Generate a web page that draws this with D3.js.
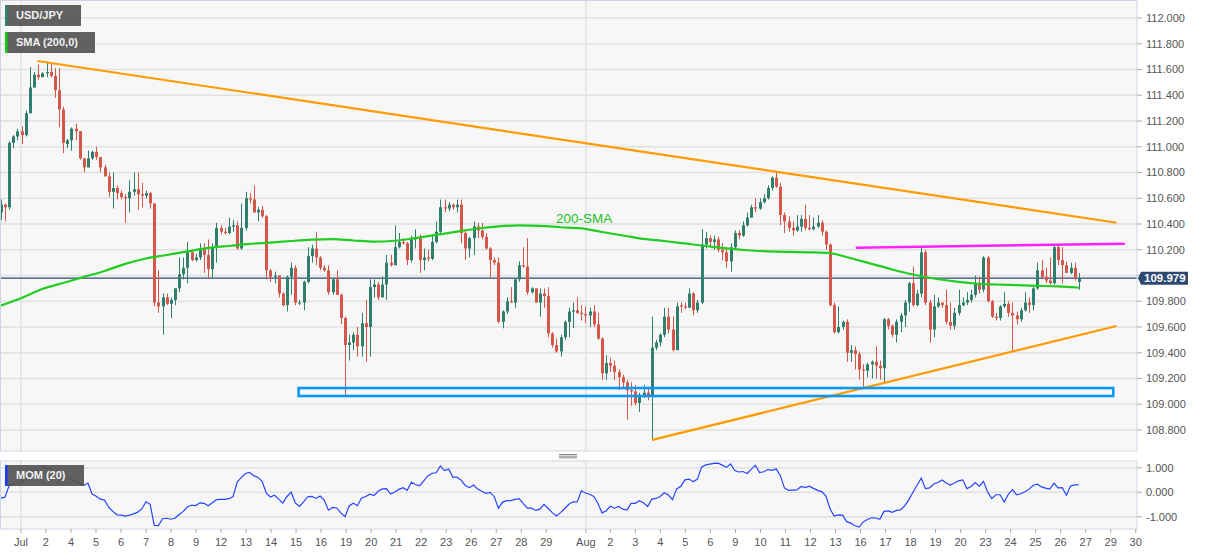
<!DOCTYPE html>
<html><head><meta charset="utf-8">
<script src="https://cdn.jsdelivr.net/npm/d3@7"></script>
<style>
body{margin:0;background:#fff;}
svg{display:block;font-family:"Liberation Sans",Arial,sans-serif;}
</style></head><body>
<svg id="c" width="1207" height="555"></svg>
<script>
// ---- DATA (4H USD/JPY candles) ----
const opens=[110.49,110.55,110.53,111.03,111.08,111.12,111.09,111.26,111.46,111.56,111.54,111.57,111.58,111.55,111.44,111.29,111.02,111.05,111.14,111.12,
110.91,110.84,110.91,110.96,110.92,110.84,110.77,110.65,110.68,110.64,110.61,110.60,110.65,110.67,110.63,110.62,110.64,110.56,109.79,109.76,
109.83,109.78,109.81,109.90,110.01,110.06,110.18,110.12,110.14,110.21,110.16,110.05,110.22,110.37,110.34,110.33,110.38,110.39,110.21,110.37,
110.60,110.59,110.49,110.51,110.46,110.04,109.99,110.00,109.86,109.77,109.99,110.06,109.79,109.79,109.95,110.15,110.21,110.14,110.06,110.04,
109.87,109.97,109.85,109.67,109.46,109.48,109.54,109.45,109.63,109.60,109.91,109.93,109.83,109.93,110.10,110.08,110.22,110.26,110.25,110.12,
110.28,110.29,110.12,110.14,110.13,110.26,110.34,110.53,110.52,110.55,110.53,110.55,110.33,110.21,110.29,110.38,110.35,110.30,110.21,110.12,
110.10,109.64,109.72,109.80,109.79,109.97,110.08,110.07,109.87,109.90,109.79,109.86,109.84,109.55,109.46,109.41,109.52,109.64,109.72,109.73,
109.71,109.70,109.69,109.72,109.62,109.51,109.24,109.32,109.30,109.25,109.21,109.17,109.11,109.10,109.01,109.07,109.09,109.06,109.44,109.48,
109.54,109.68,109.58,109.42,109.77,109.76,109.75,109.86,109.73,109.79,110.24,110.29,110.26,110.28,110.20,110.18,110.11,110.22,110.33,110.31,
110.39,110.45,110.53,110.52,110.57,110.60,110.68,110.76,110.69,110.47,110.42,110.37,110.35,110.38,110.44,110.37,110.36,110.38,110.41,110.34,
110.24,109.77,109.56,109.60,109.64,109.40,109.42,109.39,109.27,109.26,109.31,109.33,109.30,109.28,109.66,109.61,109.54,109.64,109.69,109.79,
109.94,109.77,109.86,110.18,109.79,109.58,109.76,109.79,109.77,109.64,109.61,109.71,109.77,109.79,109.81,109.85,109.94,109.89,110.14,109.80,
109.68,109.67,109.76,109.78,109.71,109.69,109.66,109.73,109.79,109.77,109.90,110.04,109.99,109.96,109.94,110.22,110.12,110.08,110.02,110.06,
109.95];
const highs=[110.59,110.56,111.04,111.09,111.14,111.16,111.28,111.62,111.58,111.64,111.58,111.66,111.65,111.61,111.61,111.31,111.06,111.15,111.18,111.12,
110.91,110.97,110.97,111.00,110.92,110.86,110.80,110.80,110.70,110.66,110.63,110.74,110.80,110.80,110.72,110.66,110.65,110.56,110.04,109.86,
109.86,109.83,109.90,110.14,110.14,110.26,110.20,110.17,110.25,110.25,110.28,110.25,110.41,110.39,110.37,110.45,110.43,110.42,110.56,110.65,
110.64,110.70,110.53,110.54,110.47,110.05,110.03,110.00,109.87,110.00,110.10,110.08,109.81,109.96,110.22,110.24,110.34,110.15,110.08,110.08,
109.98,110.04,109.86,109.68,109.54,109.56,109.60,109.71,109.81,109.97,109.97,109.95,109.99,110.16,110.16,110.39,110.33,110.29,110.26,110.31,
110.36,110.32,110.21,110.20,110.32,110.42,110.59,110.59,110.57,110.56,110.59,110.59,110.35,110.30,110.42,110.41,110.41,110.33,110.22,110.14,
110.14,109.73,109.83,109.91,109.98,110.11,110.22,110.29,109.91,109.90,109.90,109.90,109.91,109.56,109.51,109.54,109.65,109.75,109.79,109.83,
109.77,109.76,109.75,109.77,109.71,109.52,109.38,109.36,109.34,109.27,109.23,109.19,109.17,109.15,109.09,109.15,109.13,109.68,109.50,109.55,
109.75,109.75,109.68,109.79,109.79,109.79,109.90,109.87,109.81,110.36,110.34,110.31,110.31,110.30,110.25,110.22,110.25,110.35,110.35,110.42,
110.49,110.55,110.60,110.60,110.63,110.70,110.77,110.80,110.72,110.49,110.46,110.42,110.47,110.47,110.55,110.47,110.45,110.47,110.43,110.35,
110.25,109.79,109.76,109.65,109.66,109.46,109.45,109.41,109.31,109.32,109.34,109.45,109.34,109.67,109.67,109.62,109.66,109.71,109.81,109.95,
110.07,109.89,110.22,110.20,109.81,109.85,109.83,109.79,109.89,109.79,109.75,109.89,109.83,109.87,109.89,110.00,109.99,110.15,110.15,109.81,
109.71,109.77,109.87,109.80,109.79,109.72,109.75,109.87,109.83,109.91,110.10,110.12,110.06,110.14,110.24,110.24,110.22,110.11,110.10,110.10,
110.02];
const lows=[110.43,110.42,110.51,110.99,111.05,111.02,111.08,111.26,111.46,111.52,111.54,111.54,111.54,111.38,111.15,110.95,110.99,110.97,111.05,110.90,
110.80,110.84,110.90,110.90,110.80,110.77,110.61,110.52,110.59,110.59,110.41,110.49,110.62,110.51,110.53,110.60,110.52,109.76,109.71,109.54,
109.77,109.67,109.77,109.87,109.97,109.94,110.11,110.11,110.12,110.02,109.98,109.98,110.10,110.32,110.32,110.32,110.34,110.20,110.20,110.35,
110.56,110.49,110.42,110.45,109.97,109.95,109.94,109.83,109.76,109.72,109.85,109.77,109.77,109.73,109.94,110.10,110.08,110.04,110.03,109.85,
109.85,109.85,109.62,109.06,109.34,109.42,109.37,109.37,109.33,109.37,109.83,109.81,109.83,109.81,110.07,110.08,110.21,110.24,110.08,110.10,
110.21,110.02,110.04,110.11,110.12,110.25,110.33,110.49,110.50,110.51,110.49,110.25,110.12,110.14,110.16,110.29,110.28,110.20,109.98,110.08,
109.63,109.59,109.70,109.79,109.75,109.95,110.06,109.85,109.86,109.79,109.68,109.75,109.52,109.44,109.40,109.37,109.50,109.52,109.59,109.70,
109.65,109.63,109.60,109.60,109.50,109.19,109.19,109.25,109.19,109.11,109.13,108.88,108.99,108.99,108.94,109.05,109.03,108.72,109.42,109.45,
109.52,109.55,109.41,109.42,109.71,109.74,109.75,109.69,109.71,109.78,110.21,110.22,110.20,110.18,110.12,110.06,110.03,110.20,110.28,110.30,
110.38,110.45,110.49,110.51,110.56,110.59,110.66,110.68,110.39,110.33,110.34,110.31,110.34,110.34,110.35,110.35,110.35,110.37,110.31,110.20,
109.76,109.55,109.55,109.58,109.33,109.33,109.27,109.19,109.13,109.21,109.20,109.20,109.19,109.17,109.58,109.52,109.48,109.56,109.60,109.72,
109.76,109.76,109.83,109.77,109.48,109.52,109.75,109.75,109.62,109.58,109.58,109.69,109.76,109.77,109.79,109.83,109.86,109.87,109.79,109.67,
109.65,109.65,109.75,109.68,109.42,109.62,109.64,109.72,109.71,109.73,109.89,109.98,109.94,109.93,109.93,110.08,109.94,110.02,110.01,109.96,
109.89];
const closes=[110.55,110.53,111.03,111.08,111.12,111.09,111.26,111.46,111.56,111.54,111.57,111.58,111.55,111.44,111.29,111.03,111.05,111.14,111.12,110.91,
110.84,110.91,110.96,110.92,110.84,110.77,110.65,110.68,110.64,110.61,110.60,110.65,110.67,110.63,110.62,110.64,110.56,109.79,109.76,109.83,
109.78,109.81,109.90,110.01,110.06,110.18,110.12,110.14,110.21,110.16,110.05,110.22,110.37,110.34,110.33,110.38,110.39,110.21,110.37,110.60,
110.59,110.49,110.51,110.46,110.04,109.99,110.00,109.86,109.77,109.99,110.06,109.79,109.79,109.95,110.15,110.21,110.14,110.06,110.04,109.87,
109.97,109.85,109.67,109.46,109.48,109.54,109.45,109.63,109.60,109.91,109.93,109.83,109.93,110.10,110.08,110.22,110.26,110.25,110.12,110.28,
110.29,110.12,110.14,110.13,110.26,110.34,110.53,110.52,110.55,110.53,110.55,110.33,110.21,110.29,110.38,110.35,110.30,110.21,110.12,110.10,
109.64,109.72,109.80,109.79,109.97,110.08,110.07,109.87,109.90,109.79,109.86,109.84,109.55,109.46,109.41,109.52,109.64,109.72,109.73,109.71,
109.70,109.69,109.72,109.62,109.51,109.24,109.32,109.30,109.25,109.21,109.17,109.11,109.10,109.01,109.07,109.09,109.06,109.44,109.48,109.54,
109.68,109.58,109.42,109.76,109.76,109.75,109.86,109.73,109.79,110.24,110.29,110.26,110.28,110.20,110.18,110.11,110.22,110.33,110.31,110.39,
110.45,110.53,110.52,110.57,110.60,110.68,110.76,110.69,110.47,110.42,110.37,110.35,110.38,110.44,110.37,110.36,110.38,110.41,110.34,110.24,
109.77,109.56,109.60,109.64,109.40,109.42,109.39,109.27,109.26,109.31,109.33,109.30,109.28,109.66,109.61,109.54,109.64,109.69,109.79,109.94,
109.77,109.86,110.18,109.79,109.58,109.76,109.79,109.77,109.64,109.61,109.71,109.77,109.79,109.81,109.85,109.94,109.89,110.14,109.80,109.68,
109.67,109.76,109.78,109.71,109.69,109.66,109.73,109.79,109.77,109.90,110.04,109.99,109.96,109.94,110.22,110.12,110.08,110.02,110.06,109.98,
109.979];
// closes of the 20 candles before the first visible one (needed by MOM(20))
const priorCloses=[110.79,110.73,110.74,110.74,110.76,110.68,110.70,110.63,110.66,110.60,110.51,110.59,110.58,110.67,110.73,110.47,110.46,110.60,110.66,110.55];
// 200-period SMA, sampled every 5th candle
const smaStep=5;
const smaValues=[109.767,109.826,109.895,109.942,109.989,110.035,110.090,110.132,110.159,110.187,
110.214,110.229,110.245,110.256,110.268,110.278,110.282,110.272,110.263,110.270,
110.291,110.315,110.341,110.365,110.381,110.389,110.386,110.375,110.366,110.338,
110.311,110.284,110.268,110.249,110.229,110.210,110.196,110.188,110.183,110.180,
110.173,110.134,110.090,110.047,110.008,109.977,109.955,109.938,109.930,109.925,
109.920,109.915,109.905];
const tickLabels=["Jul","2","4","5","6","7","8","9","12","13","14","15","16","19","20","21","22","23","26","27","28","29",
"Aug","2","3","4","5","6","9","10","11","12","13","16","17","18","19","20","23","24","25","26","27","29","30"];
const tickIndex=[4.83,10.86,16.90,22.93,28.97,35.00,41.03,47.07,53.10,59.14,65.17,71.20,77.24,83.27,89.31,95.34,101.37,107.41,113.44,119.48,125.51,131.54,
141.1,147.00,153.03,159.07,165.10,171.14,177.17,183.20,189.24,195.27,201.31,207.34,213.37,219.41,225.44,231.48,237.51,243.54,249.58,255.61,261.65,267.68,273.71];
const monthIndex=[4.83,141.1];
const priceTicks=[112.0,111.8,111.6,111.4,111.2,111.0,110.8,110.6,110.4,110.2,110.0,109.8,109.6,109.4,109.2,109.0,108.8];
const momTicks=[1,0,-1];
const resistanceLine=[[8.8,111.666],[269.1,110.41]];
const supportLine=[[157.1,108.723],[269.1,109.608]];
const ceilingLine=[[206.2,110.216],[271.1,110.247]];
const zoneIdx=[71.8,268.3], zonePrice=[109.126,109.064];
const lastPrice=109.979;

// ---- LAYOUT ----
const svg=d3.select("#c");
const R=1137, mT=1, mB=451, oT=461, oB=529;
const x=d3.scaleLinear().domain([-0.217,274.03]).range([0,R]);
const y=d3.scaleLinear().domain([108.637,112.132]).range([mB,mT]);
const yM=d3.scaleLinear().domain([-1.5,1.28]).range([oB,oT]);
const GREEN="#2f7f6c", RED="#d4574a";

// panels
svg.append("rect").attr("x",0.5).attr("y",mT-0.5).attr("width",R-0.5).attr("height",mB-mT+0.5).attr("fill","#f7f7f7");
svg.append("rect").attr("x",0.5).attr("y",oT).attr("width",R-0.5).attr("height",oB-oT).attr("fill","#f7f7f7");

// grid main
svg.append("g").selectAll("line").data(priceTicks).join("line")
 .attr("x1",0).attr("x2",R).attr("y1",d=>y(d)).attr("y2",d=>y(d)).attr("stroke","#e1e1e1").attr("stroke-width",1.5);
svg.append("g").selectAll("line").data(momTicks).join("line")
 .attr("x1",0).attr("x2",R).attr("y1",d=>yM(d)).attr("y2",d=>yM(d)).attr("stroke","#e1e1e1").attr("stroke-width",1.5);
svg.append("g").selectAll("line").data(monthIndex).join("line")
 .attr("x1",d=>x(d)).attr("x2",d=>x(d)).attr("y1",mT).attr("y2",mB).attr("stroke","#e1e1e1").attr("stroke-width",1.5);
svg.append("g").selectAll("line").data(monthIndex).join("line")
 .attr("x1",d=>x(d)).attr("x2",d=>x(d)).attr("y1",oT).attr("y2",oB).attr("stroke","#e1e1e1").attr("stroke-width",1.5);

// current price line
svg.append("line").attr("x1",0).attr("x2",R).attr("y1",y(lastPrice)).attr("y2",y(lastPrice)).attr("stroke","#2c4770").attr("stroke-width",1.2);

// candles
const idx=d3.range(closes.length);
const cg=svg.append("g");
idx.forEach(i=>{
  const cx=Math.round(x(i))+0.5;
  const col=closes[i]>=opens[i]?GREEN:RED;
  cg.append("line").attr("x1",cx).attr("x2",cx).attr("y1",y(highs[i])).attr("y2",y(lows[i])).attr("stroke",col).attr("stroke-width",1);
  const t=y(Math.max(opens[i],closes[i])), b=y(Math.min(opens[i],closes[i]));
  cg.append("rect").attr("x",cx-1.5).attr("y",t).attr("width",3).attr("height",Math.max(1,b-t)).attr("fill",col);
});

// SMA
const smaPts=smaValues.map((v,k)=>[k*smaStep,v]);
svg.append("path").attr("d",d3.line().x(d=>x(d[0])).y(d=>y(d[1])).curve(d3.curveMonotoneX)(smaPts))
 .attr("fill","none").attr("stroke","#22cc22").attr("stroke-width",2.2);
svg.append("text").attr("x",556).attr("y",223).attr("fill","#1fbf1f").attr("font-size",13.5).text("200-SMA");

// trend lines
const seg=(pts,col,w)=>svg.append("line").attr("x1",x(pts[0][0])).attr("y1",y(pts[0][1])).attr("x2",x(pts[1][0])).attr("y2",y(pts[1][1]))
 .attr("stroke",col).attr("stroke-width",w);
seg(resistanceLine,"#ff9a00",2.2);
seg(supportLine,"#ff9a00",2.2);
seg(ceilingLine,"#ff22ff",2.5);
svg.append("rect").attr("x",x(zoneIdx[0])).attr("y",y(zonePrice[0])).attr("width",x(zoneIdx[1])-x(zoneIdx[0]))
 .attr("height",y(zonePrice[1])-y(zonePrice[0])).attr("fill","none").attr("stroke","#0a98f5").attr("stroke-width",2.6);

// MOM(20)
const mom=closes.map((c,i)=>c-(i>=20?closes[i-20]:priorCloses[i]));
svg.append("path").attr("d",d3.line().x((d,i)=>x(i)).y(d=>yM(d))(mom))
 .attr("fill","none").attr("stroke","#2545ff").attr("stroke-width",1.2);

// borders
svg.append("rect").attr("x",0.5).attr("y",mT-0.5).attr("width",R-0.5).attr("height",mB-mT+0.5).attr("fill","none").attr("stroke","#cdd5e4");
svg.append("rect").attr("x",0.5).attr("y",oT).attr("width",R-0.5).attr("height",oB-oT).attr("fill","none").attr("stroke","#cdd5e4");

// separator handle
[454.5,456.2,457.9].forEach(v=>svg.append("line").attr("x1",559).attr("x2",577).attr("y1",v).attr("y2",v).attr("stroke","#6a6a6a").attr("stroke-width",0.8));

// right axes
const ly=y(lastPrice);
const ax=svg.append("g").attr("font-size",11).attr("fill","#555");
priceTicks.forEach(p=>{
  ax.append("line").attr("x1",R).attr("x2",R+5).attr("y1",y(p)).attr("y2",y(p)).attr("stroke","#aaa");
  // the last-price tag hides any tick label it sits on
  if(Math.abs(y(p)-ly)>11) ax.append("text").attr("x",R+9).attr("y",y(p)).attr("dy","0.35em").text(p.toFixed(3));
});
momTicks.forEach(p=>{
  ax.append("line").attr("x1",R).attr("x2",R+5).attr("y1",yM(p)).attr("y2",yM(p)).attr("stroke","#aaa");
  ax.append("text").attr("x",R+9).attr("y",yM(p)).attr("dy","0.35em").text(p.toFixed(3));
});
// x axis
tickIndex.forEach((t,k)=>{
  ax.append("line").attr("x1",x(t)).attr("x2",x(t)).attr("y1",oB).attr("y2",oB+4).attr("stroke","#aaa");
  ax.append("text").attr("x",x(t)).attr("y",546).attr("text-anchor","middle").text(tickLabels[k]);
});

// last price label
svg.append("path").attr("d",`M${R+1},${ly} L${R+4},${ly-6.5} L${R+51},${ly-6.5} L${R+51},${ly+6.5} L${R+4},${ly+6.5} Z`).attr("fill","#2c4770");
svg.append("text").attr("x",R+7).attr("y",ly).attr("dy","0.36em").attr("fill","#fff").attr("font-size",11.5).attr("font-weight","bold").text(lastPrice.toFixed(3));

// legend tags
const tag=(x0,y0,w,label,stripe)=>{
  svg.append("rect").attr("x",x0).attr("y",y0).attr("width",w).attr("height",21).attr("fill","#555").attr("opacity",0.93);
  svg.append("rect").attr("x",x0).attr("y",y0).attr("width",2.5).attr("height",21).attr("fill",stripe);
  svg.append("text").attr("x",x0+11).attr("y",y0+10.5).attr("dy","0.36em").attr("fill","#f2f2f2").attr("font-size",11).attr("font-weight","bold").text(label);
};
tag(5,5,76,"USD/JPY","#2a8572");
tag(5,32,90,"SMA (200,0)","#11cc11");
tag(5,465,79,"MOM (20)","#1a3cff");
</script>
</body></html>
